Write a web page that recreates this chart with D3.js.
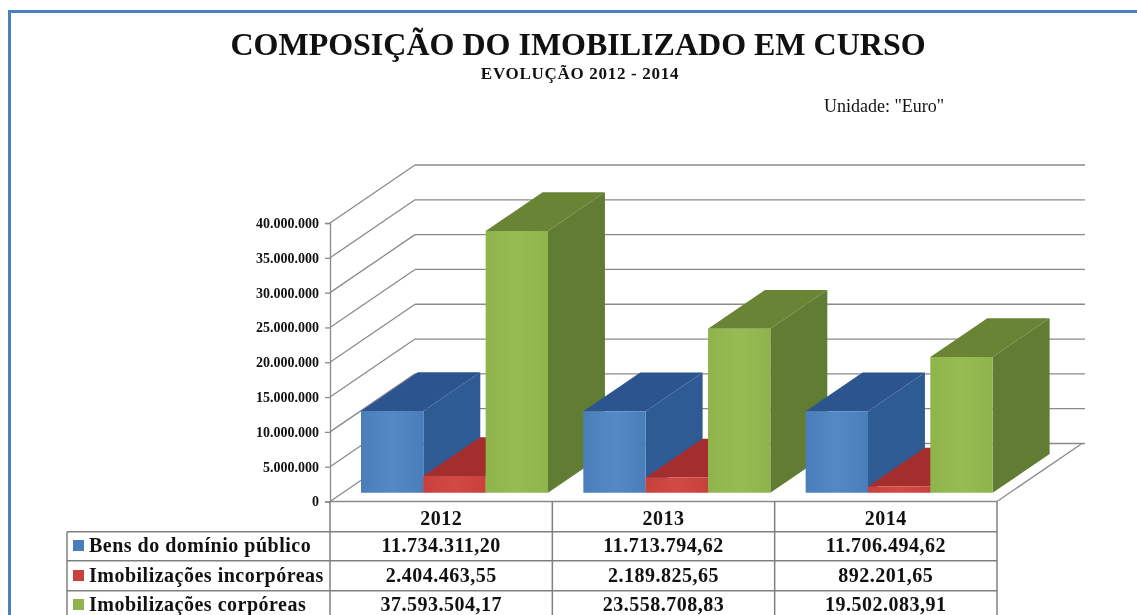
<!DOCTYPE html>
<html><head><meta charset="utf-8">
<script src="https://cdn.jsdelivr.net/npm/d3@7/dist/d3.min.js"></script>
<style>
html,body{margin:0;padding:0;background:#fff;overflow:hidden}
svg{display:block;filter:blur(0.45px)}
text{font-family:"Liberation Serif",serif;fill:#111}
</style></head><body>
<svg id="c" width="1137" height="615"></svg>
<script>
const categories=["2012","2013","2014"];
const seriesNames=["Bens do domínio público","Imobilizações incorpóreas","Imobilizações corpóreas"];
const bens=[11734311.20,11713794.62,11706494.62];
const incorporeas=[2404463.55,2189825.65,892201.65];
const corporeas=[37593504.17,23558708.83,19502083.91];
const seriesValues=[bens,incorporeas,corporeas];
const tickValues=[0,5e6,10e6,15e6,20e6,25e6,30e6,35e6,40e6];
const colors=[
 {front:"#4a7ebb",light:"#5489c6",side:"#2f5b94",top:"#2c5590"},
 {front:"#c8403c",light:"#d24a46",side:"#a32e2d",top:"#a32e2d"},
 {front:"#8fb44c",light:"#97bc54",side:"#617d33",top:"#6a8435"}];

const fmtInt=v=>d3.format(",d")(v).replace(/,/g,".");
const fmtDec=v=>d3.format(",.2f")(v).replace(/[,.]/g,m=>m===","?".":",");

const svg=d3.select("#c");
const defs=svg.append("defs");
colors.forEach((c,i)=>{
  const g=defs.append("linearGradient").attr("id","f"+i);
  g.append("stop").attr("offset","0").attr("stop-color",c.front);
  g.append("stop").attr("offset","0.5").attr("stop-color",c.light);
  g.append("stop").attr("offset","1").attr("stop-color",c.front);
});

// window frame
svg.append("rect").attr("x",8).attr("y",10).attr("width",1129).attr("height",3).attr("fill","#4a7fc0");
svg.append("rect").attr("x",8).attr("y",10).attr("width",3).attr("height",605).attr("fill","#4a7fc0");

const x=d3.scaleBand().domain(categories).range([330,997]);
const inner=d3.scaleBand().domain(d3.range(3)).range([31,218]);
const y=d3.scaleLinear().domain([0,40e6]).range([501.5,223]);
const DX=85,DY=-58;
const pr=(px,py,d)=>[px+DX*d,py+DY*d];
const gridColor="#8a8a8a";

// walls
const grid=svg.append("g").attr("fill","none").attr("stroke",gridColor).attr("stroke-width",1.3);
tickValues.forEach(t=>{
  const a=[x.range()[0],y(t)],b=pr(a[0],a[1],1);
  grid.append("line").attr("x1",a[0]).attr("y1",a[1]).attr("x2",b[0]).attr("y2",b[1]);
  grid.append("line").attr("x1",b[0]).attr("y1",b[1]).attr("x2",1085).attr("y2",b[1]);
});
const fr=[x.range()[1],y(0)],frb=pr(fr[0],fr[1],1);
grid.append("line").attr("x1",fr[0]).attr("y1",fr[1]).attr("x2",frb[0]).attr("y2",frb[1]);
grid.append("line").attr("x1",x.range()[0]).attr("y1",y(0)).attr("x2",fr[0]).attr("y2",y(0));

// bars
const D0=0.15,D1=0.82;
const poly=pts=>pts.map(p=>p.join(",")).join(" ");
categories.forEach((cat,ci)=>{
  seriesValues.forEach((vals,si)=>{
    const x0=x(cat)+inner(si),x1=x0+inner.bandwidth();
    const yb=y(0),yt=y(vals[ci]);
    const fb0=pr(x0,yb,D0),fb1=pr(x1,yb,D0),ft0=pr(x0,yt,D0),ft1=pr(x1,yt,D0);
    const bb1=pr(x1,yb,D1),bt0=pr(x0,yt,D1),bt1=pr(x1,yt,D1);
    const L=-DX*D0;
    const s=p=>[p[0]+L,p[1]];
    const g=svg.append("g");
    g.append("polygon").attr("points",poly([ft1,bt1,bb1,fb1].map(s))).attr("fill",colors[si].side);
    g.append("polygon").attr("points",poly([ft0,bt0,bt1,ft1].map(s))).attr("fill",colors[si].top);
    g.append("polygon").attr("points",poly([ft0,ft1,fb1,fb0].map(s))).attr("fill",`url(#f${si})`);
  });
});

// axis
const axis=d3.axisLeft(y).tickValues(tickValues).tickFormat(fmtInt).tickSize(5).tickPadding(6);
const ag=svg.append("g").attr("transform",`translate(${x.range()[0]},0)`).call(axis);
ag.selectAll("path,line").attr("stroke",gridColor).attr("stroke-width",1.3);
ag.selectAll("text").style("font-family",'"Liberation Serif",serif').style("font-size","14px").style("font-weight","bold").attr("fill","#222");

// data table
const tbl=svg.append("g").attr("stroke","#7f7f7f").attr("stroke-width",1.5);
const rowY=[531.7,560.7,590.7];
rowY.forEach(v=>tbl.append("line").attr("x1",67).attr("x2",997).attr("y1",v).attr("y2",v));
tbl.append("line").attr("x1",67).attr("x2",67).attr("y1",rowY[0]).attr("y2",615);
[...categories.map(c=>x(c)),x.range()[1]].forEach(v=>tbl.append("line").attr("x1",v).attr("x2",v).attr("y1",y(0)).attr("y2",615));

const cell=(t,px,py,anchor)=>svg.append("text").text(t).attr("x",px).attr("y",py)
  .attr("text-anchor",anchor).attr("font-weight","bold")
  .attr("font-size",20).attr("letter-spacing",0.5);
categories.forEach(c=>cell(c,x(c)+x.bandwidth()/2,525,"middle"));
const rowBase=[552,582,611];
seriesNames.forEach((n,si)=>{
  svg.append("rect").attr("x",73).attr("y",rowBase[si]-12).attr("width",11).attr("height",11).attr("fill",colors[si].front);
  cell(n,89,rowBase[si],"start");
  categories.forEach((c,ci)=>cell(fmtDec(seriesValues[si][ci]),x(c)+x.bandwidth()/2,rowBase[si],"middle"));
});

// titles
svg.append("text").text("COMPOSIÇÃO DO IMOBILIZADO EM CURSO").attr("x",578).attr("y",55)
  .attr("text-anchor","middle").attr("font-weight","bold").attr("font-size",32).attr("fill","#000");
svg.append("text").text("EVOLUÇÃO 2012 - 2014").attr("x",580).attr("y",79)
  .attr("text-anchor","middle").attr("font-weight","bold").attr("font-size",17).attr("letter-spacing",0.7);
svg.append("text").text('Unidade: "Euro"').attr("x",824).attr("y",112).attr("font-size",18);
</script>
</body></html>
